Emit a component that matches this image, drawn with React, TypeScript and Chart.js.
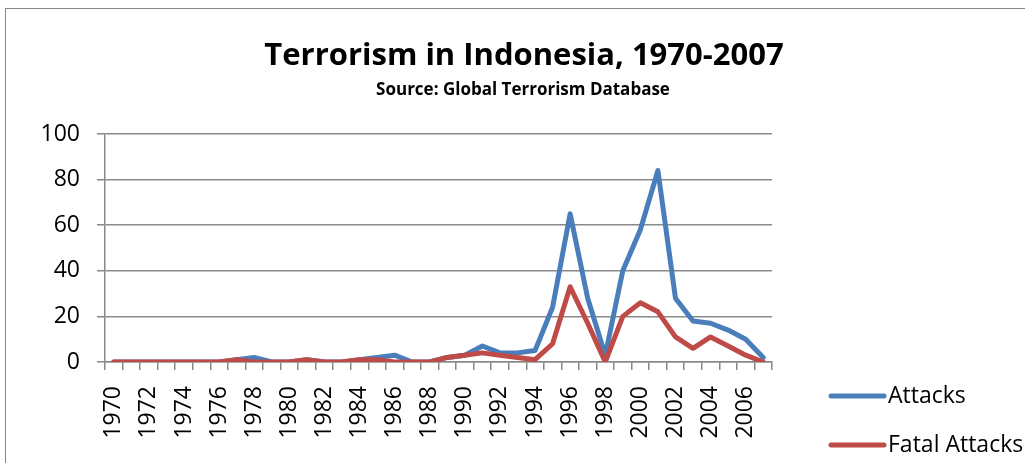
import React, { useEffect, useRef } from 'react';
import { Chart, registerables } from 'chart.js';

Chart.register(...registerables);

const years: string[] = [
  '1970', '1971', '1972', '1973', '1974', '1975', '1976', '1977', '1978', '1979',
  '1980', '1981', '1982', '1983', '1984', '1985', '1986', '1987', '1988', '1989',
  '1990', '1991', '1992', '1993', '1994', '1995', '1996', '1997', '1998', '1999',
  '2000', '2001', '2002', '2003', '2004', '2005', '2006', '2007',
];

const attacks: number[] = [
  0, 0, 0, 0, 0, 0, 0, 1, 2, 0,
  0, 1, 0, 0, 1, 2, 3, 0, 0, 2,
  3, 7, 4, 4, 5, 24, 65, 28, 3, 40,
  58, 84, 28, 18, 17, 14, 10, 2,
];

const fatalAttacks: number[] = [
  0, 0, 0, 0, 0, 0, 0, 1, 0, 0,
  0, 1, 0, 0, 1, 1, 0, 0, 0, 2,
  3, 4, 3, 2, 1, 8, 33, 17, 0, 20,
  26, 22, 11, 6, 11, 7, 3, 0,
];

const yMin = 0;
const yMax = 100;
const yStep = 20;

const TITLE = 'Terrorism in Indonesia, 1970-2007';
const SUBTITLE = 'Source: Global Terrorism Database';
const SERIES_LABELS = ['Attacks', 'Fatal Attacks'];
const BLUE = '#4A7EBB';
const RED = '#BE4B48';
const GRID = '#898989';
const FONT = "'Open Sans', sans-serif";

const framePlugin = {
  id: 'frame',
  beforeDraw(chart: any) {
    const ctx = chart.ctx;
    ctx.save();
    ctx.fillStyle = '#ffffff';
    ctx.fillRect(0, 0, chart.width, chart.height);
    ctx.strokeStyle = '#868686';
    ctx.lineWidth = 1;
    ctx.strokeRect(5.5, 8.5, chart.width + 20, chart.height + 20);
    ctx.restore();
  },
};

const titlePlugin = {
  id: 'centeredTitles',
  afterDraw(chart: any) {
    const ctx = chart.ctx;
    ctx.save();
    ctx.fillStyle = '#000';
    ctx.textAlign = 'center';
    ctx.textBaseline = 'alphabetic';
    ctx.font = `bold 31px ${FONT}`;
    ctx.fillText(TITLE, 524, 65);
    ctx.font = `bold 17px ${FONT}`;
    ctx.fillText(SUBTITLE, 523, 95);
    ctx.restore();
  },
};

const legendPlugin = {
  id: 'customLegend',
  afterDraw(chart: any) {
    const ctx = chart.ctx;
    ctx.save();
    const rows = [396, 445];
    chart.data.datasets.forEach((ds: any, i: number) => {
      const y = rows[i];
      ctx.strokeStyle = ds.borderColor;
      ctx.lineWidth = 5;
      ctx.lineCap = 'round';
      ctx.beginPath();
      ctx.moveTo(831, y);
      ctx.lineTo(884, y);
      ctx.stroke();
      ctx.fillStyle = '#000';
      ctx.font = `23px ${FONT}`;
      ctx.textBaseline = 'middle';
      ctx.textAlign = 'left';
      ctx.fillText(ds.label, 888, y);
    });
    ctx.restore();
  },
};

export default function App() {
  const ref = useRef<HTMLCanvasElement | null>(null);

  useEffect(() => {
    if (!ref.current) return;
    const chart = new Chart(ref.current, {
      type: 'line',
      data: {
        labels: years,
        datasets: [
          {
            label: SERIES_LABELS[0],
            data: attacks,
            order: 1,
            borderColor: BLUE,
            backgroundColor: BLUE,
            borderWidth: 5,
            pointRadius: 0,
            tension: 0,
            borderCapStyle: 'round',
            borderJoinStyle: 'round',
          },
          {
            label: SERIES_LABELS[1],
            data: fatalAttacks,
            order: 0,
            borderColor: RED,
            backgroundColor: RED,
            borderWidth: 5,
            pointRadius: 0,
            tension: 0,
            borderCapStyle: 'round',
            borderJoinStyle: 'round',
          },
        ],
      },
      options: {
        animation: false,
        responsive: false,
        maintainAspectRatio: false,
        layout: { padding: { top: 134, left: 0, right: 253, bottom: 0 } },
        plugins: {
          legend: { display: false },
          tooltip: { enabled: false },
          title: { display: false },
          subtitle: { display: false },
        },
        scales: {
          x: {
            type: 'category',
            offset: true,
            border: { display: true, color: GRID, width: 1.5 },
            grid: {
              offset: true,
              drawOnChartArea: false,
              drawTicks: true,
              tickLength: 8,
              color: GRID,
              lineWidth: 1.5,
            },
            ticks: {
              autoSkip: false,
              minRotation: 90,
              maxRotation: 90,
              padding: 16,
              color: '#000',
              font: { family: FONT, size: 23 },
              callback: (_v: any, i: number) => (i % 2 === 0 ? years[i] : ''),
            },
            afterFit: (scale: any) => {
              scale.height = 101;
            },
          },
          y: {
            min: yMin,
            max: yMax,
            border: { display: true, color: GRID, width: 1.5 },
            grid: {
              color: GRID,
              lineWidth: 1.5,
              drawTicks: true,
              tickLength: 8,
            },
            ticks: {
              stepSize: yStep,
              padding: 17,
              color: '#000',
              font: { family: FONT, size: 23 },
            },
            afterFit: (scale: any) => {
              scale.width = 105;
            },
          },
        },
      },
      plugins: [framePlugin, titlePlugin, legendPlugin],
    } as any);
    return () => chart.destroy();
  }, []);

  return (
    <div style={{ position: 'absolute', left: 0, top: 0, width: 1025, height: 463 }}>
      <canvas ref={ref} width={1025} height={463} style={{ width: 1025, height: 463, display: 'block' }} />
    </div>
  );
}
